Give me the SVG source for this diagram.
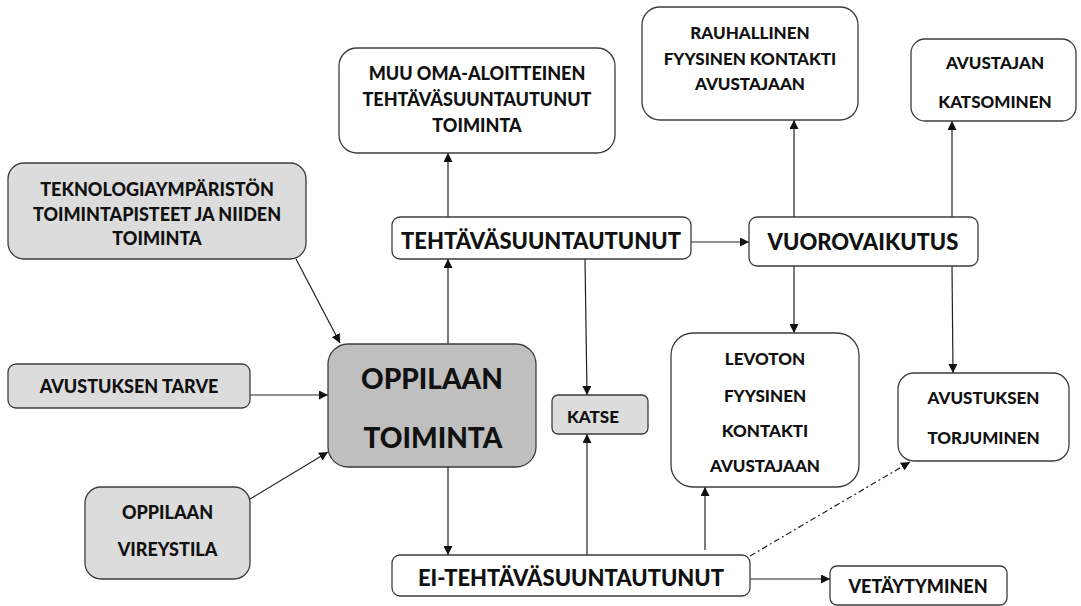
<svg xmlns="http://www.w3.org/2000/svg" width="1081" height="606" viewBox="0 0 1081 606">
<defs>
<style>
.b{fill:#fff;stroke:#3c3c3c;stroke-width:1.3}
.g{fill:#dcdcdc;stroke:#3c3c3c;stroke-width:1.3}
.d{fill:#bfbfbf;stroke:#3c3c3c;stroke-width:1.3}
text{font-family:Lato,"Open Sans","Liberation Sans",sans-serif;font-weight:900;fill:#111;text-anchor:middle;dominant-baseline:central}
.s17{font-size:17px}
.s18{font-size:18px}
.s21{font-size:22px}
.s27{font-size:28px}
.c line{stroke:#222;stroke-width:1.2;fill:none}
</style>
<marker id="a" viewBox="0 0 10 10" refX="10" refY="5" markerWidth="9" markerHeight="9" markerUnits="userSpaceOnUse" orient="auto">
<path d="M0,0L10,5L0,10z" fill="#111"/>
</marker>
</defs>
<rect width="1081" height="606" fill="#fff"/>

<g class="c">
<line x1="296" y1="259" x2="340" y2="343" marker-end="url(#a)"/>
<line x1="250" y1="395" x2="328" y2="395" marker-end="url(#a)"/>
<line x1="250" y1="499" x2="328" y2="452" marker-end="url(#a)"/>
<line x1="448" y1="344" x2="448" y2="259" marker-end="url(#a)"/>
<line x1="448" y1="217" x2="448" y2="153" marker-end="url(#a)"/>
<line x1="691" y1="242" x2="749" y2="242" marker-end="url(#a)"/>
<line x1="585" y1="259" x2="587" y2="395" marker-end="url(#a)"/>
<line x1="794" y1="217" x2="794" y2="120" marker-end="url(#a)"/>
<line x1="952" y1="217" x2="952" y2="121" marker-end="url(#a)"/>
<line x1="794" y1="266" x2="794" y2="333" marker-end="url(#a)"/>
<line x1="952" y1="266" x2="953" y2="373" marker-end="url(#a)"/>
<line x1="448" y1="467" x2="448" y2="555" marker-end="url(#a)"/>
<line x1="587" y1="555" x2="587" y2="434" marker-end="url(#a)"/>
<line x1="705" y1="550" x2="705" y2="487" marker-end="url(#a)"/>
<line x1="750" y1="579" x2="830" y2="579" marker-end="url(#a)"/>
<line x1="750" y1="556" x2="910" y2="462" stroke-dasharray="6,3,2,3" marker-end="url(#a)"/>
</g>

<g id="teknologia">
<rect class="g" x="8" y="163" width="298" height="96" rx="16"/>
<text class="s18" x="157" y="189">TEKNOLOGIAYMPÄRISTÖN</text>
<text class="s18" x="157" y="214">TOIMINTAPISTEET JA NIIDEN</text>
<text class="s18" x="157" y="238">TOIMINTA</text>
</g>
<g id="avustuksen-tarve">
<rect class="g" x="8" y="364" width="242" height="44" rx="8"/>
<text class="s18" x="129" y="386">AVUSTUKSEN TARVE</text>
</g>
<g id="vireystila">
<rect class="g" x="85" y="487" width="165" height="92" rx="16"/>
<text class="s18" x="167.5" y="512">OPPILAAN</text>
<text class="s18" x="167.5" y="549">VIREYSTILA</text>
</g>
<g id="oppilaan-toiminta">
<rect class="d" x="328" y="344" width="208" height="123" rx="20"/>
<text class="s27" x="432" y="378">OPPILAAN</text>
<text class="s27" x="433" y="437">TOIMINTA</text>
</g>
<g id="muu">
<rect class="b" x="339" y="48" width="276" height="105" rx="18"/>
<text class="s18" x="477" y="73">MUU OMA-ALOITTEINEN</text>
<text class="s18" x="477" y="99">TEHTÄVÄSUUNTAUTUNUT</text>
<text class="s18" x="477" y="125">TOIMINTA</text>
</g>
<g id="tehtava">
<rect class="b" x="392" y="217" width="299" height="42" rx="8"/>
<text class="s21" x="541" y="240">TEHTÄVÄSUUNTAUTUNUT</text>
</g>
<g id="rauhallinen">
<rect class="b" x="642" y="7" width="216" height="113" rx="18"/>
<text class="s17" x="750" y="32">RAUHALLINEN</text>
<text class="s17" x="750" y="58">FYYSINEN KONTAKTI</text>
<text class="s17" x="750" y="83">AVUSTAJAAN</text>
</g>
<g id="avustajan-katsominen">
<rect class="b" x="911" y="39" width="165" height="82" rx="14"/>
<text class="s17" x="995" y="62">AVUSTAJAN</text>
<text class="s17" x="995" y="101">KATSOMINEN</text>
</g>
<g id="vuorovaikutus">
<rect class="b" x="749" y="217" width="229" height="49" rx="8"/>
<text class="s21" x="863" y="241">VUOROVAIKUTUS</text>
</g>
<g id="katse">
<rect class="g" x="552" y="395" width="96" height="39" rx="6"/>
<text class="s17" x="593" y="416">KATSE</text>
</g>
<g id="levoton">
<rect class="b" x="671" y="333" width="188" height="154" rx="22"/>
<text class="s17" x="765" y="358">LEVOTON</text>
<text class="s17" x="765" y="395">FYYSINEN</text>
<text class="s17" x="765" y="430">KONTAKTI</text>
<text class="s17" x="765" y="465">AVUSTAJAAN</text>
</g>
<g id="torjuminen">
<rect class="b" x="898" y="373" width="171" height="88" rx="16"/>
<text class="s17" x="983.5" y="397">AVUSTUKSEN</text>
<text class="s17" x="983.5" y="437">TORJUMINEN</text>
</g>
<g id="ei-tehtava">
<rect class="b" x="392" y="555" width="358" height="41" rx="8"/>
<text class="s21" x="571" y="577">EI-TEHTÄVÄSUUNTAUTUNUT</text>
</g>
<g id="vetaytyminen">
<rect class="b" x="830" y="566" width="177" height="39" rx="7"/>
<text class="s18" x="918" y="586">VETÄYTYMINEN</text>
</g>
</svg>
